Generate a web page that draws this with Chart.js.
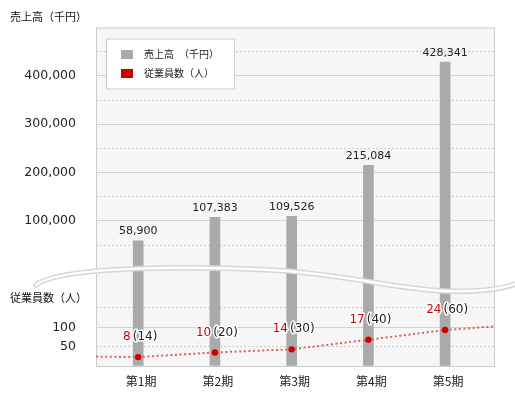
<!DOCTYPE html>
<html>
<head>
<meta charset="utf-8">
<script src="https://cdn.jsdelivr.net/npm/chart.js@4.4.1/dist/chart.umd.min.js"></script>
<style>
  body { margin: 0; background: #fff; }
  canvas { display: block; }
</style>
</head>
<body>
<canvas id="salesChart" width="515" height="395"></canvas>
<script>
// データ
const categories = ['第1期', '第2期', '第3期', '第4期', '第5期'];
const sales = [58900, 107383, 109526, 215084, 428341];        // 売上高（千円）
const staff = [8, 10, 14, 17, 24];                             // 従業員数
const partTime = [14, 20, 30, 40, 60];                         // （　）内の人数
const staffLine = [23, 35, 43, 68, 93];                        // 折れ線の高さ
const salesTicks = [100000, 200000, 300000, 400000];
const staffTicks = [50, 100];

const NUM_FONT = "'DejaVu Sans', sans-serif";
const JP_FONT = "'Noto Sans CJK JP', sans-serif";
const TEXT = '#222';
const RED = '#d00000';

const fmt = v => v.toLocaleString('en-US');

const ctx = document.getElementById('salesChart').getContext('2d');

// 下段の目盛りは幅0の軸なので mirror で外側に出す（右揃え用に最大幅を測る）
ctx.font = '12.5px ' + NUM_FONT;
const staffLabelWidth = Math.max(...staffTicks.map(v => ctx.measureText(fmt(v)).width));

// 背景と枠
const frame = {
    id: 'frame',
    beforeDraw(chart) {
        const { ctx, chartArea: a } = chart;
        ctx.save();
        ctx.fillStyle = '#f6f6f6';
        ctx.fillRect(a.left, a.top, a.right - a.left, a.bottom - a.top);
        ctx.strokeStyle = '#cccccc';
        ctx.lineWidth = 1;
        ctx.strokeRect(a.left + 0.5, a.top + 0.5, a.right - a.left - 1, a.bottom - a.top);
        ctx.restore();
    },
    // 折れ線を枠の端まで延ばす（棒の上、線の下）
    afterDatasetDraw(chart, args) {
        if (args.index !== 0) return;
        const pts = chart.getDatasetMeta(1).data;
        if (!pts.length) return;
        const { ctx, chartArea: a } = chart;
        const first = pts[0], second = pts[1];
        const last = pts[pts.length - 1], prev = pts[pts.length - 2];
        const s0 = (second.y - first.y) / (second.x - first.x) * 0.2;
        const s1 = (last.y - prev.y) / (last.x - prev.x) * 0.6;
        ctx.save();
        ctx.strokeStyle = chart.data.datasets[1].borderColor;
        ctx.lineWidth = 2;
        ctx.setLineDash([2, 2.6]);
        ctx.beginPath();
        ctx.moveTo(a.left, first.y - s0 * (a.left - first.x));
        ctx.lineTo(first.x, first.y);
        ctx.moveTo(last.x, last.y);
        ctx.lineTo(a.right, last.y + s1 * (a.right - last.x));
        ctx.stroke();
        ctx.restore();
    },
    afterDatasetsDraw(chart) {
        const { ctx } = chart;
        ctx.save();
        // 省略の波線
        ctx.beginPath();
        ctx.moveTo(36, 285);
        ctx.bezierCurveTo(60, 266, 190, 266, 270, 270);
        ctx.bezierCurveTo(340, 273, 400, 290, 445, 291);
        ctx.bezierCurveTo(480, 292, 500, 290, 515, 284);
        ctx.lineCap = 'round';
        ctx.strokeStyle = '#d6d6d6';
        ctx.lineWidth = 5.5;
        ctx.stroke();
        ctx.strokeStyle = '#ffffff';
        ctx.lineWidth = 2.5;
        ctx.stroke();

        // 棒の値
        ctx.font = '11px ' + NUM_FONT;
        ctx.fillStyle = TEXT;
        ctx.textAlign = 'center';
        ctx.textBaseline = 'bottom';
        chart.getDatasetMeta(0).data.forEach((bar, i) => {
            ctx.fillText(fmt(sales[i]), bar.x, bar.y - 4);
        });

        // 従業員数ラベル
        ctx.font = '12px ' + NUM_FONT;
        ctx.textBaseline = 'middle';
        ctx.textAlign = 'left';
        ctx.lineJoin = 'round';
        chart.getDatasetMeta(1).data.forEach((pt, i) => {
            const a = String(staff[i]);
            const b = '(' + partTime[i] + ')';
            const wa = ctx.measureText(a).width;
            const wb = ctx.measureText(b).width;
            const gap = 2;
            let x = pt.x + 2 - (wa + gap + wb) / 2;
            const y = pt.y - 20;
            ctx.strokeStyle = '#fff';
            ctx.lineWidth = 3;
            ctx.strokeText(a, x, y);
            ctx.strokeText(b, x + wa + gap, y);
            ctx.fillStyle = RED;
            ctx.fillText(a, x, y);
            ctx.fillStyle = TEXT;
            ctx.fillText(b, x + wa + gap, y);
        });
        ctx.restore();
    },
    afterDraw(chart) {
        const { ctx, chartArea: a, scales } = chart;
        ctx.save();
        // 軸タイトル
        ctx.font = '11px ' + JP_FONT;
        ctx.fillStyle = '#111';
        ctx.textBaseline = 'middle';
        ctx.textAlign = 'left';
        ctx.fillText(scales.y.options.title.text, 10, 17);
        ctx.fillText(scales.y2.options.title.text, 10, 298);

        // 凡例
        const lx = a.left + 10, ly = a.top + 11;
        ctx.fillStyle = '#fff';
        ctx.fillRect(lx, ly, 129, 51);
        ctx.strokeStyle = '#cccccc';
        ctx.lineWidth = 1;
        ctx.strokeRect(lx + 0.5, ly + 0.5, 128, 50);
        ctx.font = '10px ' + JP_FONT;
        chart.data.datasets.forEach((ds, i) => {
            const y = ly + 16 + i * 19;
            ctx.fillStyle = ds.legendColor;
            ctx.fillRect(lx + 15, y - 4.5, 12, 9);
            ctx.fillStyle = TEXT;
            ctx.fillText(ds.label, lx + 38, y);
        });
        ctx.restore();
    }
};

const config = {
    data: {
        datasets: [{
            type: 'bar',
            label: '売上高　（千円）',
            data: sales.map((v, i) => ({ x: i, y: v })),
            backgroundColor: '#aaaaaa',
            legendColor: '#aaaaaa',
            barThickness: 10,
            base: -200000,
            yAxisID: 'y',
            order: 2
        }, {
            type: 'line',
            label: '従業員数（人）',
            data: staffLine.map((v, i) => ({ x: i, y: v })),
            borderColor: '#e25c5c',
            borderWidth: 2,
            borderDash: [2, 2.6],
            legendColor: '#cc0000',
            pointRadius: 3.2,
            pointBackgroundColor: RED,
            pointBorderWidth: 0,
            fill: false,
            yAxisID: 'y2',
            order: 1
        }]
    },
    options: {
        responsive: false,
        devicePixelRatio: 1,
        animation: false,
        layout: { padding: { top: 16, right: 20, left: 0, bottom: 0 } },
        plugins: {
            legend: { display: false },
            tooltip: { enabled: false }
        },
        scales: {
            x: {
                type: 'linear',
                offset: false,
                min: -0.55,
                max: 4.65,
                afterBuildTicks: scale => {
                    scale.ticks = categories.map((c, i) => ({ value: i }));
                },
                afterFit: scale => { scale.height = 29; },
                grid: { display: false, drawTicks: false },
                border: { display: false },
                ticks: {
                    callback: v => categories[v],
                    font: { family: JP_FONT, size: 12 },
                    color: TEXT,
                    padding: 8,
                    labelOffset: 3,
                    maxRotation: 0,
                    autoSkip: false
                }
            },
            y: {
                type: 'linear',
                position: 'left',
                weight: 1,
                min: -200000,
                max: 500000,
                title: { display: false, text: '売上高（千円）' },
                afterFit: scale => { scale.width = 96; },
                border: { display: false, dash: c => (c.tick && c.tick.value % 100000 !== 0) ? [2, 2] : [] },
                grid: {
                    drawTicks: false,
                    color: c => (c.tick.value > 0 && c.tick.value < 500000)
                        ? (c.tick.value % 100000 === 0 ? '#d2d2d2' : '#cbcbcb')
                        : 'rgba(0,0,0,0)'
                },
                ticks: {
                    stepSize: 50000,
                    autoSkip: false,
                    padding: 20,
                    font: { family: NUM_FONT, size: 12.5 },
                    color: TEXT,
                    callback: v => salesTicks.includes(v) ? fmt(v) : ''
                }
            },
            y2: {
                type: 'linear',
                position: 'left',
                weight: 0,
                min: 0,
                max: 875,
                title: { display: false, text: '従業員数（人）' },
                afterFit: scale => { scale.width = 0; },
                border: { display: false, dash: c => (c.tick && c.tick.value % 100 !== 0) ? [2, 2] : [] },
                grid: {
                    drawTicks: false,
                    color: c => (c.tick.value > 0 && c.tick.value <= 150)
                        ? (c.tick.value % 100 === 0 ? '#d2d2d2' : '#cbcbcb')
                        : 'rgba(0,0,0,0)'
                },
                ticks: {
                    stepSize: 50,
                    autoSkip: false,
                    mirror: true,
                    crossAlign: 'far',
                    padding: -(20 + staffLabelWidth),
                    font: { family: NUM_FONT, size: 12.5 },
                    color: TEXT,
                    callback: v => staffTicks.includes(v) ? fmt(v) : ''
                }
            }
        }
    },
    plugins: [frame]
};

const salesChart = new Chart(ctx, config);
</script>
</body>
</html>
